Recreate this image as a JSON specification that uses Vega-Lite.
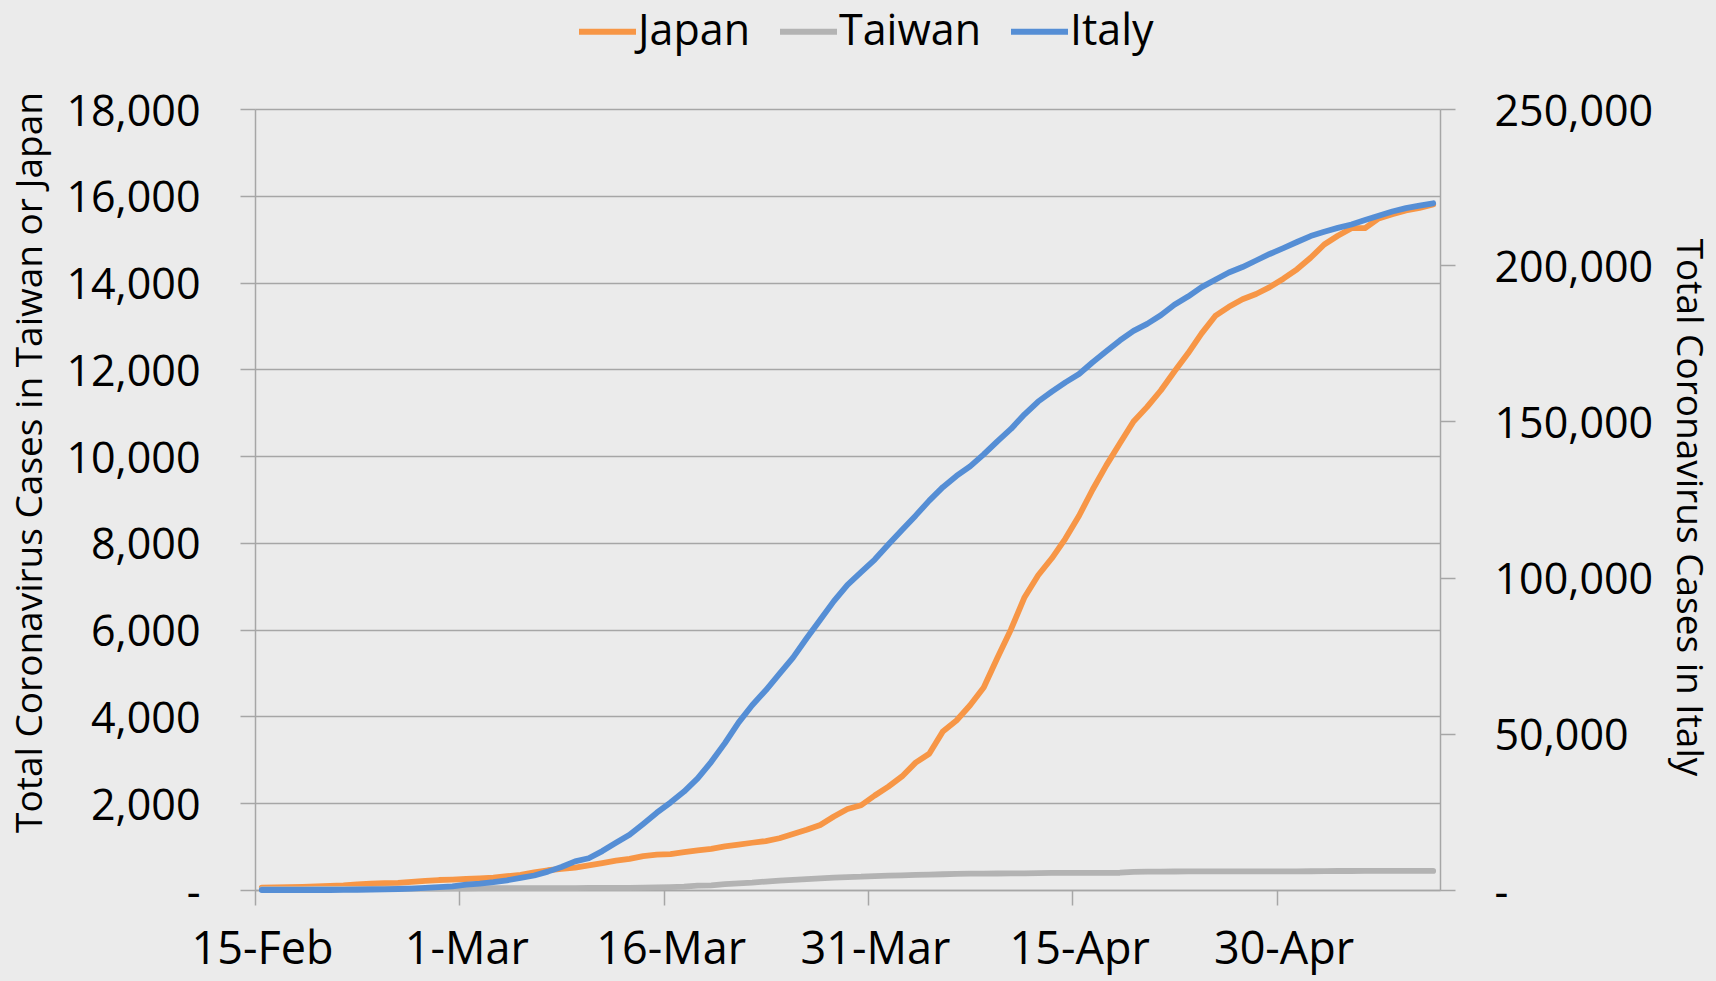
{
  "$schema": "https://vega.github.io/schema/vega-lite/v6.json",
  "width": 1185,
  "height": 781,
  "autosize": {"type": "none"},
  "padding": {"left": 255, "top": 109, "right": 276, "bottom": 91},
  "background": "#ebebeb",
  "config": {
    "font": "Open Sans",
    "view": {"stroke": null},
    "axis": {
      "labelFont": "Open Sans",
      "titleFont": "Open Sans",
      "labelColor": "#000000",
      "titleColor": "#000000",
      "domainColor": "#a6a6a6",
      "tickColor": "#a6a6a6",
      "gridColor": "#a6a6a6",
      "domainWidth": 1.5,
      "tickWidth": 1.5,
      "gridWidth": 1.5,
      "tickSize": 15,
      "titleFontWeight": "normal",
      "titleFontSize": 37,
      "labelFontSize": 43
    }
  },
  "data": {
    "values": [
      {"date": "2020-02-15", "Japan": 53, "Taiwan": 18, "Italy": 3},
      {"date": "2020-02-16", "Japan": 59, "Taiwan": 20, "Italy": 3},
      {"date": "2020-02-17", "Japan": 66, "Taiwan": 22, "Italy": 3},
      {"date": "2020-02-18", "Japan": 73, "Taiwan": 22, "Italy": 3},
      {"date": "2020-02-19", "Japan": 84, "Taiwan": 23, "Italy": 3},
      {"date": "2020-02-20", "Japan": 93, "Taiwan": 24, "Italy": 3},
      {"date": "2020-02-21", "Japan": 105, "Taiwan": 26, "Italy": 20},
      {"date": "2020-02-22", "Japan": 132, "Taiwan": 26, "Italy": 79},
      {"date": "2020-02-23", "Japan": 144, "Taiwan": 28, "Italy": 157},
      {"date": "2020-02-24", "Japan": 157, "Taiwan": 30, "Italy": 229},
      {"date": "2020-02-25", "Japan": 164, "Taiwan": 31, "Italy": 323},
      {"date": "2020-02-26", "Japan": 186, "Taiwan": 32, "Italy": 470},
      {"date": "2020-02-27", "Japan": 210, "Taiwan": 32, "Italy": 655},
      {"date": "2020-02-28", "Japan": 230, "Taiwan": 34, "Italy": 889},
      {"date": "2020-02-29", "Japan": 239, "Taiwan": 39, "Italy": 1128},
      {"date": "2020-03-01", "Japan": 254, "Taiwan": 40, "Italy": 1694},
      {"date": "2020-03-02", "Japan": 268, "Taiwan": 41, "Italy": 2036},
      {"date": "2020-03-03", "Japan": 284, "Taiwan": 42, "Italy": 2502},
      {"date": "2020-03-04", "Japan": 317, "Taiwan": 42, "Italy": 3089},
      {"date": "2020-03-05", "Japan": 349, "Taiwan": 44, "Italy": 3858},
      {"date": "2020-03-06", "Japan": 408, "Taiwan": 45, "Italy": 4636},
      {"date": "2020-03-07", "Japan": 455, "Taiwan": 45, "Italy": 5883},
      {"date": "2020-03-08", "Japan": 488, "Taiwan": 45, "Italy": 7375},
      {"date": "2020-03-09", "Japan": 514, "Taiwan": 45, "Italy": 9172},
      {"date": "2020-03-10", "Japan": 568, "Taiwan": 47, "Italy": 10149},
      {"date": "2020-03-11", "Japan": 620, "Taiwan": 48, "Italy": 12462},
      {"date": "2020-03-12", "Japan": 675, "Taiwan": 49, "Italy": 15113},
      {"date": "2020-03-13", "Japan": 716, "Taiwan": 50, "Italy": 17660},
      {"date": "2020-03-14", "Japan": 780, "Taiwan": 53, "Italy": 21157},
      {"date": "2020-03-15", "Japan": 814, "Taiwan": 59, "Italy": 24747},
      {"date": "2020-03-16", "Japan": 829, "Taiwan": 67, "Italy": 27980},
      {"date": "2020-03-17", "Japan": 873, "Taiwan": 77, "Italy": 31506},
      {"date": "2020-03-18", "Japan": 914, "Taiwan": 100, "Italy": 35713},
      {"date": "2020-03-19", "Japan": 950, "Taiwan": 108, "Italy": 41035},
      {"date": "2020-03-20", "Japan": 1007, "Taiwan": 135, "Italy": 47021},
      {"date": "2020-03-21", "Japan": 1046, "Taiwan": 153, "Italy": 53578},
      {"date": "2020-03-22", "Japan": 1089, "Taiwan": 169, "Italy": 59138},
      {"date": "2020-03-23", "Japan": 1128, "Taiwan": 195, "Italy": 63927},
      {"date": "2020-03-24", "Japan": 1193, "Taiwan": 215, "Italy": 69176},
      {"date": "2020-03-25", "Japan": 1291, "Taiwan": 235, "Italy": 74386},
      {"date": "2020-03-26", "Japan": 1387, "Taiwan": 252, "Italy": 80589},
      {"date": "2020-03-27", "Japan": 1499, "Taiwan": 267, "Italy": 86498},
      {"date": "2020-03-28", "Japan": 1693, "Taiwan": 283, "Italy": 92472},
      {"date": "2020-03-29", "Japan": 1866, "Taiwan": 298, "Italy": 97689},
      {"date": "2020-03-30", "Japan": 1953, "Taiwan": 306, "Italy": 101739},
      {"date": "2020-03-31", "Japan": 2178, "Taiwan": 322, "Italy": 105792},
      {"date": "2020-04-01", "Japan": 2384, "Taiwan": 329, "Italy": 110574},
      {"date": "2020-04-02", "Japan": 2617, "Taiwan": 339, "Italy": 115242},
      {"date": "2020-04-03", "Japan": 2935, "Taiwan": 348, "Italy": 119827},
      {"date": "2020-04-04", "Japan": 3139, "Taiwan": 355, "Italy": 124632},
      {"date": "2020-04-05", "Japan": 3654, "Taiwan": 363, "Italy": 128948},
      {"date": "2020-04-06", "Japan": 3906, "Taiwan": 373, "Italy": 132547},
      {"date": "2020-04-07", "Japan": 4257, "Taiwan": 376, "Italy": 135586},
      {"date": "2020-04-08", "Japan": 4667, "Taiwan": 379, "Italy": 139422},
      {"date": "2020-04-09", "Japan": 5347, "Taiwan": 380, "Italy": 143626},
      {"date": "2020-04-10", "Japan": 6005, "Taiwan": 382, "Italy": 147577},
      {"date": "2020-04-11", "Japan": 6748, "Taiwan": 385, "Italy": 152271},
      {"date": "2020-04-12", "Japan": 7255, "Taiwan": 388, "Italy": 156363},
      {"date": "2020-04-13", "Japan": 7645, "Taiwan": 393, "Italy": 159516},
      {"date": "2020-04-14", "Japan": 8100, "Taiwan": 393, "Italy": 162488},
      {"date": "2020-04-15", "Japan": 8626, "Taiwan": 395, "Italy": 165155},
      {"date": "2020-04-16", "Japan": 9231, "Taiwan": 395, "Italy": 168941},
      {"date": "2020-04-17", "Japan": 9787, "Taiwan": 395, "Italy": 172434},
      {"date": "2020-04-18", "Japan": 10296, "Taiwan": 398, "Italy": 175925},
      {"date": "2020-04-19", "Japan": 10797, "Taiwan": 420, "Italy": 178972},
      {"date": "2020-04-20", "Japan": 11135, "Taiwan": 422, "Italy": 181228},
      {"date": "2020-04-21", "Japan": 11512, "Taiwan": 425, "Italy": 183957},
      {"date": "2020-04-22", "Japan": 11950, "Taiwan": 426, "Italy": 187327},
      {"date": "2020-04-23", "Japan": 12368, "Taiwan": 427, "Italy": 189973},
      {"date": "2020-04-24", "Japan": 12829, "Taiwan": 428, "Italy": 192994},
      {"date": "2020-04-25", "Japan": 13231, "Taiwan": 429, "Italy": 195351},
      {"date": "2020-04-26", "Japan": 13441, "Taiwan": 429, "Italy": 197675},
      {"date": "2020-04-27", "Japan": 13614, "Taiwan": 429, "Italy": 199414},
      {"date": "2020-04-28", "Japan": 13736, "Taiwan": 429, "Italy": 201505},
      {"date": "2020-04-29", "Japan": 13895, "Taiwan": 429, "Italy": 203591},
      {"date": "2020-04-30", "Japan": 14088, "Taiwan": 429, "Italy": 205463},
      {"date": "2020-05-01", "Japan": 14305, "Taiwan": 429, "Italy": 207428},
      {"date": "2020-05-02", "Japan": 14571, "Taiwan": 432, "Italy": 209328},
      {"date": "2020-05-03", "Japan": 14877, "Taiwan": 436, "Italy": 210717},
      {"date": "2020-05-04", "Japan": 15078, "Taiwan": 438, "Italy": 211938},
      {"date": "2020-05-05", "Japan": 15253, "Taiwan": 438, "Italy": 213013},
      {"date": "2020-05-06", "Japan": 15253, "Taiwan": 439, "Italy": 214457},
      {"date": "2020-05-07", "Japan": 15477, "Taiwan": 440, "Italy": 215858},
      {"date": "2020-05-08", "Japan": 15575, "Taiwan": 440, "Italy": 217185},
      {"date": "2020-05-09", "Japan": 15663, "Taiwan": 440, "Italy": 218268},
      {"date": "2020-05-10", "Japan": 15720, "Taiwan": 440, "Italy": 219070},
      {"date": "2020-05-11", "Japan": 15798, "Taiwan": 440, "Italy": 219814}
    ]
  },
  "transform": [{"fold": ["Japan", "Taiwan", "Italy"], "as": ["country", "cases"]}],
  "encoding": {
    "x": {
      "field": "date",
      "type": "temporal",
      "timeUnit": "utcyearmonthdate",
      "bandPosition": 0.5,
      "scale": {
        "domain": [
          {"year": 2020, "month": 2, "date": 15, "utc": true},
          {"year": 2020, "month": 5, "date": 12, "utc": true}
        ]
      },
      "axis": {
        "title": null,
        "grid": false,
        "format": "%-d-%b",
        "labelFontSize": 45,
        "labelPadding": 22,
        "labelOffset": 7,
        "labelFlush": false,
        "labelOverlap": false,
        "values": [
          {"year": 2020, "month": 2, "date": 15, "utc": true},
          {"year": 2020, "month": 3, "date": 1, "utc": true},
          {"year": 2020, "month": 3, "date": 16, "utc": true},
          {"year": 2020, "month": 3, "date": 31, "utc": true},
          {"year": 2020, "month": 4, "date": 15, "utc": true},
          {"year": 2020, "month": 4, "date": 30, "utc": true}
        ]
      }
    },
    "color": {
      "field": "country",
      "type": "nominal",
      "scale": {
        "domain": ["Japan", "Taiwan", "Italy"],
        "range": ["#f79646", "#b3b3b3", "#558ed5"]
      },
      "legend": {
        "orient": "none",
        "legendX": 321,
        "legendY": -109,
        "direction": "horizontal",
        "title": null,
        "padding": 0,
        "labelFont": "Open Sans",
        "labelFontSize": 43,
        "labelColor": "#000000",
        "symbolType": "stroke",
        "symbolSize": 3249,
        "symbolStrokeWidth": 6,
        "labelOffset": -1,
        "columnPadding": 17
      }
    }
  },
  "layer": [
    {
      "transform": [{"filter": "datum.country !== 'Italy'"}],
      "mark": {"type": "line", "strokeWidth": 5.8, "strokeCap": "round", "strokeJoin": "round"},
      "encoding": {
        "y": {
          "field": "cases",
          "type": "quantitative",
          "scale": {"domain": [0, 18000], "nice": false},
          "axis": {
            "orient": "left",
            "title": "Total Coronavirus Cases in Taiwan or Japan",
            "titleY": 353,
            "titlePadding": 16,
            "grid": true,
            "values": [0, 2000, 4000, 6000, 8000, 10000, 12000, 14000, 16000, 18000],
            "labelExpr": "datum.value === 0 ? '-\u00a0\u00a0' : format(datum.value, ',')",
            "labelPadding": 40,
            "labelOffset": 3
          }
        }
      }
    },
    {
      "transform": [{"filter": "datum.country === 'Italy'"}],
      "mark": {"type": "line", "strokeWidth": 5.8, "strokeCap": "round", "strokeJoin": "round"},
      "encoding": {
        "y": {
          "field": "cases",
          "type": "quantitative",
          "scale": {"domain": [0, 250000], "nice": false},
          "axis": {
            "orient": "right",
            "title": "Total Coronavirus Cases in Italy",
            "titleY": 398,
            "titlePadding": 28,
            "grid": false,
            "values": [0, 50000, 100000, 150000, 200000, 250000],
            "labelExpr": "datum.value === 0 ? '-' : format(datum.value, ',')",
            "labelPadding": 39,
            "labelOffset": 3
          }
        }
      }
    }
  ],
  "resolve": {"scale": {"y": "independent"}}
}
